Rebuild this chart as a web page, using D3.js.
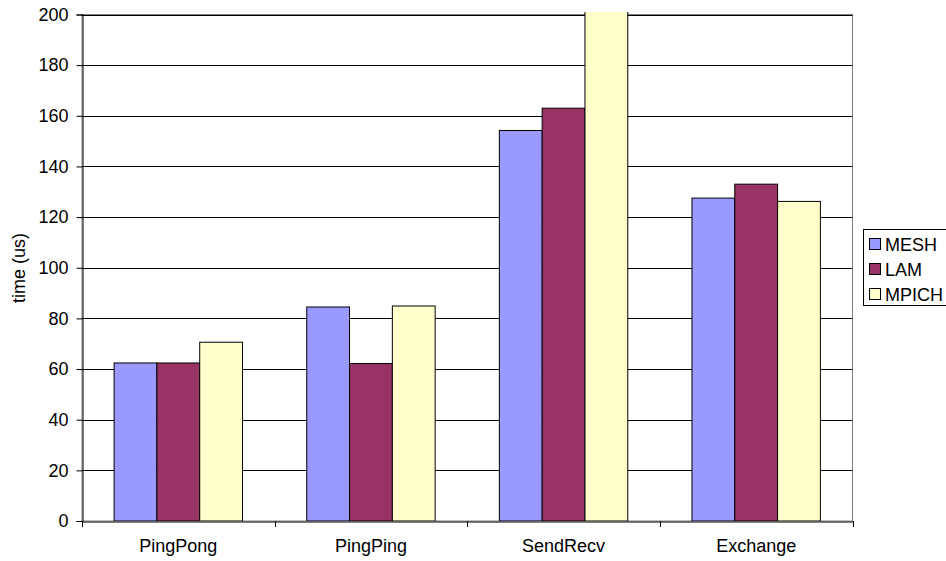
<!DOCTYPE html>
<html><head><meta charset="utf-8">
<script src="https://cdn.jsdelivr.net/npm/d3@7"></script>
<style>body{margin:0;background:#fff}svg{display:block}text{font-family:"Liberation Sans",Arial,sans-serif;fill:#000}</style>
</head><body><svg id="c" width="946" height="561"></svg>
<script>
const categories = ["PingPong","PingPing","SendRecv","Exchange"];
const seriesNames = ["MESH","LAM","MPICH"];
const mesh  = [62.4, 84.5, 154.2, 127.5];
const lam   = [62.4, 62.2, 163.0, 133.0];
const mpich = [70.6, 84.9, 210, 126.2];
const yTicks = [0,20,40,60,80,100,120,140,160,180,200];
const colors = ["#9999FF","#993366","#FFFFCC"];
const values = [mesh, lam, mpich];

const svg = d3.select("#c");
const L = 82, R = 852.5, T = 14.5, B = 521;
const FS = "18px";
const x = d3.scaleBand().domain(categories).range([L, R]).paddingInner(0).paddingOuter(0);
const y = d3.scaleLinear().domain([0,200]).range([B, T]);
const bw = x.bandwidth()/4.5;

svg.append("rect").attr("x",L).attr("y",T).attr("width",R-L).attr("height",B-T)
  .attr("fill","#fff").attr("stroke","#808080").attr("stroke-width",1);
svg.append("g").selectAll("line").data(yTicks.filter(d=>d>0)).join("line")
  .attr("x1",L).attr("x2",R).attr("y1",d=>Math.round(y(d))+0.5).attr("y2",d=>Math.round(y(d))+0.5)
  .attr("stroke","#000").attr("stroke-width",1);

svg.append("defs").append("clipPath").attr("id","clip").append("rect")
  .attr("x",L).attr("y",T-2.5).attr("width",R-L).attr("height",B-T+2.5);

const g = svg.append("g").attr("clip-path","url(#clip)");
seriesNames.forEach((s,si)=>{
  g.selectAll(null).data(categories).join("rect")
    .attr("x",(c)=>x(c)+x.bandwidth()/2 - 1.5*bw + si*bw)
    .attr("y",(c,i)=>y(values[si][i]))
    .attr("width",bw)
    .attr("height",(c,i)=>B - y(values[si][i]))
    .attr("fill",colors[si]).attr("stroke","#000").attr("stroke-width",1);
});

const yAxis = d3.axisLeft(y).tickValues(yTicks).tickSize(6).tickPadding(8);
const ya = svg.append("g").attr("transform",`translate(${L+0.5},0)`).call(yAxis);
ya.select(".domain").attr("stroke","#000");
ya.selectAll(".tick line").attr("stroke","#000");
ya.selectAll("text").style("font-size",FS).attr("fill","#000");

const xAxis = d3.axisBottom(x).tickSize(0).tickPadding(18);
const xa = svg.append("g").attr("transform",`translate(0,${B+0.5})`).call(xAxis);
xa.select(".domain").attr("stroke","#000");
xa.selectAll("text").style("font-size",FS).attr("fill","#000");
const bounds = [L, ...categories.map(c=>x(c)+x.bandwidth())];
svg.append("g").selectAll("line").data(bounds).join("line")
  .attr("x1",d=>Math.round(d)+0.5).attr("x2",d=>Math.round(d)+0.5).attr("y1",B).attr("y2",B+6)
  .attr("stroke","#000");

svg.append("text").attr("transform","translate(25,268) rotate(-90)")
  .attr("text-anchor","middle").style("font-size",FS).text("time (us)");

const lg = svg.append("g");
lg.append("rect").attr("x",863.5).attr("y",229.5).attr("width",100).attr("height",76)
  .attr("fill","#fff").attr("stroke","#000");
seriesNames.forEach((s,i)=>{
  const yy = 244 + i*25;
  lg.append("rect").attr("x",869.5).attr("y",yy-5.5).attr("width",11).attr("height",11)
    .attr("fill",colors[i]).attr("stroke","#000");
  lg.append("text").attr("x",885).attr("y",yy+6.5).style("font-size",FS).text(s);
});
</script></body></html>
